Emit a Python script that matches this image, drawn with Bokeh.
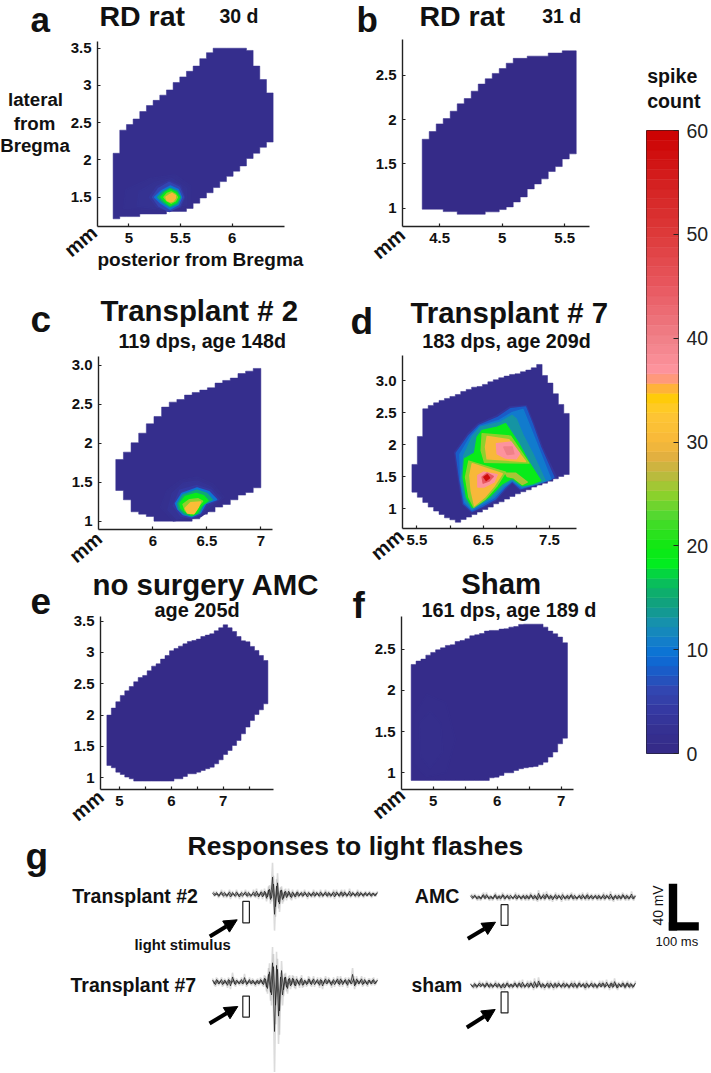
from collections import namedtuple
import numpy as np
from bokeh.plotting import figure
from bokeh.layouts import column, row
from bokeh.models import Label, FixedTicker, Range1d, Arrow, NormalHead
from bokeh.embed import file_html
from bokeh.resources import INLINE

# ---------- colour scale (spike count -> colour) ----------
cmap_levels = [0, 2, 4, 6, 8, 9.5, 11, 12.5, 14, 15.5, 17, 18, 20, 23, 25, 27, 28.5, 30, 33, 34, 35, 35.8, 36.5, 40, 45, 50, 55, 60]
cmap_colors = ["#352a87", "#35308f", "#3538a0", "#3345b0", "#1a5cc8", "#0a70d8", "#1480c8", "#1690b0", "#129c88", "#0eae6c", "#06c850", "#00ee22",
               "#10e812", "#55d830", "#8fd02c", "#c0b840", "#e0b040", "#f8b83a", "#ffc832", "#ffd000", "#ffb830", "#ff9c60", "#ff96a0", "#f08088",
               "#e85860", "#dd3a3a", "#d42020", "#cc0000"]
colorbar_ticks = [0, 10, 20, 30, 40, 50, 60]
colorbar_bands = 64

# ---------- panel a ----------
a_x0, a_step = 4.848, 0.0645
a_top = [2.09, 2.40, 2.475, 2.55, 2.65, 2.73, 2.80, 2.87, 2.94, 3.04, 3.115, 3.19, 3.26, 3.36, 3.44, 3.50, 3.50, 3.50, 3.50, 3.50, 3.47, 3.26, 3.08, 2.90]
a_bottom = [1.21, 1.24, 1.24, 1.24, 1.275, 1.275, 1.275, 1.275, 1.31, 1.31, 1.31, 1.35, 1.42, 1.49, 1.56, 1.63, 1.71, 1.78, 1.85, 1.92, 2.02, 2.09, 2.17, 2.24]
a_base = 1.5
a_contours = [
    (1.9, [(4.95, 1.35), (4.97, 1.6), (5.2, 1.75), (5.45, 1.8), (5.6, 1.65), (5.6, 1.38), (5.3, 1.33)]),
    (2.4, [(5.08, 1.38), (5.1, 1.58), (5.25, 1.7), (5.42, 1.75), (5.56, 1.62), (5.56, 1.40), (5.3, 1.34)]),
    (3.4, [(5.2, 1.50), (5.27, 1.64), (5.39, 1.72), (5.5, 1.65), (5.54, 1.50), (5.5, 1.37), (5.39, 1.31), (5.27, 1.37)]),
    (6, [(5.23, 1.50), (5.29, 1.62), (5.39, 1.70), (5.49, 1.63), (5.53, 1.50), (5.49, 1.38), (5.39, 1.31), (5.29, 1.38)]),
    (10, [(5.25, 1.50), (5.31, 1.58), (5.40, 1.65), (5.48, 1.60), (5.51, 1.50), (5.48, 1.40), (5.40, 1.34), (5.31, 1.42)]),
    (15, [(5.28, 1.50), (5.33, 1.57), (5.40, 1.62), (5.47, 1.58), (5.50, 1.50), (5.47, 1.41), (5.40, 1.37), (5.33, 1.43)]),
    (19, [(5.31, 1.50), (5.35, 1.56), (5.40, 1.60), (5.46, 1.56), (5.49, 1.50), (5.46, 1.43), (5.40, 1.39), (5.35, 1.44)]),
    (25, [(5.34, 1.50), (5.37, 1.55), (5.41, 1.57), (5.45, 1.54), (5.47, 1.50), (5.45, 1.45), (5.41, 1.42), (5.37, 1.45)]),
    (30, [(5.36, 1.50), (5.39, 1.53), (5.42, 1.55), (5.45, 1.52), (5.45, 1.49), (5.43, 1.45), (5.40, 1.44), (5.37, 1.46)]),
]

# ---------- panel b ----------
b_x0, b_step = 4.36, 0.056
b_top = [1.778, 1.865, 1.951, 2.011, 2.094, 2.177, 2.237, 2.32, 2.40, 2.46, 2.52, 2.575, 2.635, 2.69, 2.69, 2.715, 2.715, 2.715, 2.75, 2.75, 2.775, 2.775]
b_bottom = [0.989, 0.989, 0.989, 0.962, 0.962, 0.932, 0.932, 0.932, 0.932, 0.959, 0.959, 0.985, 1.015, 1.071, 1.128, 1.218, 1.274, 1.331, 1.414, 1.47, 1.556, 1.613]
b_base = 0.3

# ---------- panel c ----------
c_x0, c_step = 5.657, 0.0707
c_top = [1.795, 1.889, 2.009, 2.132, 2.252, 2.346, 2.466, 2.53, 2.564, 2.62, 2.654, 2.684, 2.714, 2.774, 2.808, 2.838, 2.897, 2.927, 2.962]
c_bottom = [1.397, 1.278, 1.124, 1.094, 1.064, 1.004, 1.004, 1.004, 1.004, 1.004, 1.034, 1.094, 1.124, 1.184, 1.218, 1.278, 1.338, 1.372, 1.432]
c_base = 1.5
c_contours = [
    (2.0, [(6.07, 1.18), (6.13, 1.40), (6.26, 1.53), (6.41, 1.57), (6.56, 1.48), (6.66, 1.31), (6.56, 1.18), (6.44, 1.06), (6.19, 1.01)]),
    (2.7, [(6.14, 1.15), (6.18, 1.36), (6.28, 1.49), (6.41, 1.52), (6.54, 1.44), (6.63, 1.30), (6.54, 1.2), (6.44, 1.08), (6.22, 1.03)]),
    (4.2, [(6.19, 1.2), (6.25, 1.40), (6.41, 1.46), (6.54, 1.40), (6.61, 1.28), (6.5, 1.21), (6.44, 1.09), (6.36, 1.04), (6.26, 1.07)]),
    (10, [(6.21, 1.23), (6.27, 1.36), (6.41, 1.43), (6.52, 1.38), (6.59, 1.28), (6.49, 1.23), (6.44, 1.11), (6.36, 1.06), (6.28, 1.09), (6.23, 1.16)]),
    (15, [(6.23, 1.23), (6.28, 1.34), (6.41, 1.40), (6.50, 1.36), (6.55, 1.28), (6.47, 1.22), (6.43, 1.11), (6.36, 1.07), (6.29, 1.10), (6.24, 1.16)]),
    (19, [(6.25, 1.23), (6.30, 1.32), (6.40, 1.36), (6.47, 1.33), (6.51, 1.27), (6.45, 1.2), (6.41, 1.11), (6.36, 1.08), (6.30, 1.12), (6.26, 1.17)]),
    (25, [(6.28, 1.22), (6.34, 1.28), (6.42, 1.29), (6.46, 1.26), (6.42, 1.19), (6.39, 1.12), (6.35, 1.10), (6.30, 1.14)]),
    (31, [(6.30, 1.17), (6.35, 1.24), (6.44, 1.25), (6.42, 1.18), (6.38, 1.10), (6.32, 1.11)]),
]

# ---------- panel d ----------
d_x0, d_step = 5.425, 0.0818
d_top = [1.693, 2.13, 2.5625, 2.615, 2.656, 2.693, 2.724, 2.755, 2.786, 2.833, 2.865, 2.90, 2.911, 2.943, 2.984, 3.016, 3.047, 3.073, 3.099, 3.109, 3.141, 3.167, 3.203, 3.255, 3.083, 2.964, 2.797, 2.630, 2.49]
d_bottom = [1.26, 1.18, 1.10, 1.026, 0.964, 0.911, 0.859, 0.828, 0.79, 0.833, 0.87, 0.91, 0.948, 0.99, 1.026, 1.078, 1.109, 1.151, 1.193, 1.234, 1.266, 1.297, 1.339, 1.37, 1.40, 1.432, 1.469, 1.505, 1.536]
d_base = 1.5
d_contours = [
    (3.4, [(6.07, 1.880), (6.27, 2.17), (6.43, 2.33), (6.70, 2.45), (6.90, 2.59), (7.15, 2.61), (7.26, 2.33), (7.39, 1.96), (7.60, 1.50), (7.32, 1.38), (7.06, 1.29), (6.94, 1.41), (6.84, 1.31), (6.69, 1.13), (6.51, 1.03), (6.32, 0.95), (6.19, 1.07), (6.13, 1.44)]),
    (8, [(6.093, 1.870), (6.284, 2.146), (6.435, 2.302), (6.711, 2.422), (6.912, 2.5625), (7.138, 2.589), (7.239, 2.328), (7.364, 1.964), (7.565, 1.49), (7.314, 1.39), (7.063, 1.3125), (6.937, 1.432), (6.837, 1.339), (6.686, 1.156), (6.51, 1.052), (6.334, 0.964), (6.209, 1.078), (6.148, 1.443)]),
    (10.5, [(6.15, 1.85), (6.31, 2.13), (6.45, 2.29), (6.74, 2.38), (6.93, 2.50), (7.10, 2.55), (7.21, 2.27), (7.34, 1.93), (7.52, 1.46), (7.31, 1.39), (7.08, 1.33), (6.94, 1.44), (6.82, 1.35), (6.66, 1.17), (6.48, 1.065), (6.33, 0.985), (6.22, 1.10), (6.16, 1.44)]),
    (13, [(6.209, 1.833), (6.334, 2.12), (6.46, 2.276), (6.761, 2.354), (6.937, 2.458), (7.0, 2.40), (7.10, 2.15), (7.25, 1.85), (7.43, 1.45), (7.314, 1.391), (7.088, 1.345), (6.937, 1.453), (6.812, 1.365), (6.636, 1.182), (6.46, 1.078), (6.334, 1.0), (6.234, 1.13), (6.168, 1.443)]),
    (19, [(6.219, 1.781), (6.369, 1.870), (6.41, 2.12), (6.485, 2.224), (6.711, 2.276), (6.837, 2.328), (7.038, 2.016), (7.188, 1.729), (7.364, 1.443), (7.239, 1.391), (7.088, 1.365), (6.937, 1.479), (6.786, 1.391), (6.585, 1.182), (6.435, 1.078), (6.334, 1.026), (6.249, 1.182), (6.198, 1.495)]),
    (25, [(6.485, 2.172), (6.912, 2.135), (7.188, 1.714), (6.52, 1.729), (6.47, 1.911)]),
    (30, [(6.56, 2.13), (6.887, 2.078), (7.138, 1.74), (6.56, 1.781), (6.535, 1.964)]),
    (37, [(6.70, 2.016), (6.922, 2.042), (7.048, 1.859), (6.997, 1.781), (6.837, 1.792), (6.711, 1.859)]),
    (40, [(6.812, 1.964), (6.937, 1.964), (6.962, 1.859), (6.862, 1.849)]),
    (25, [(6.284, 1.745), (6.837, 1.573), (6.711, 1.365), (6.535, 1.156), (6.359, 1.026), (6.284, 1.182), (6.234, 1.495)]),
    (30, [(6.334, 1.703), (6.786, 1.547), (6.671, 1.365), (6.52, 1.182), (6.369, 1.052), (6.319, 1.286), (6.299, 1.521)]),
    (37, [(6.42, 1.521), (6.51, 1.573), (6.711, 1.531), (6.661, 1.417), (6.51, 1.339), (6.42, 1.339)]),
    (45, [(6.485, 1.495), (6.56, 1.557), (6.651, 1.505), (6.585, 1.432), (6.5, 1.401)]),
    (58, [(6.51, 1.495), (6.56, 1.531), (6.595, 1.484), (6.545, 1.443)]),
    (26, [(6.837, 1.557), (6.987, 1.557), (7.163, 1.417), (7.088, 1.38), (6.962, 1.484), (6.862, 1.505)]),
]

# ---------- panel e ----------
e_x0, e_step = 4.756, 0.0863
e_top = [2.0, 2.112, 2.213, 2.314, 2.388, 2.457, 2.532, 2.601, 2.633, 2.707, 2.782, 2.819, 2.894, 2.952, 3.027, 3.064, 3.101, 3.138, 3.176, 3.191, 3.213, 3.255, 3.277, 3.298, 3.346, 3.394, 3.441, 3.394, 3.335, 3.255, 3.186, 3.17, 3.096, 3.032, 2.952, 2.872]
e_bottom = [1.197, 1.16, 1.09, 1.053, 1.011, 0.984, 0.947, 0.947, 0.947, 0.947, 0.947, 0.947, 0.947, 0.947, 0.947, 0.984, 0.984, 1.021, 1.064, 1.064, 1.09, 1.117, 1.144, 1.17, 1.223, 1.287, 1.372, 1.436, 1.516, 1.596, 1.702, 1.809, 1.915, 2.011, 2.085, 2.181]
e_base = 0.3

# ---------- panel f ----------
f_x0, f_step = 4.656, 0.0763
f_top = [2.314, 2.355, 2.379, 2.427, 2.46, 2.492, 2.516, 2.545, 2.553, 2.593, 2.605, 2.626, 2.662, 2.674, 2.69, 2.719, 2.727, 2.727, 2.743, 2.747, 2.767, 2.775, 2.8, 2.803, 2.803, 2.803, 2.803, 2.767, 2.719, 2.686, 2.646, 2.577]
f_bottom = [0.907] * 16 + [0.939, 0.947, 0.968, 1.0, 1.0, 1.028, 1.049, 1.061, 1.069, 1.077, 1.097, 1.129, 1.19, 1.251, 1.352, 1.42]
f_base = 0.8
f_contours = [
    (1.05, [(4.7, 1.1), (4.7, 1.7), (4.9, 1.95), (5.2, 1.85), (5.35, 1.4), (5.2, 1.0), (4.9, 0.95)]),
    (1.3, [(4.8, 1.2), (4.78, 1.6), (4.95, 1.75), (5.12, 1.6), (5.15, 1.25), (4.95, 1.05)]),
]

# ---------- panel g: two overlaid sweeps per recording (mV, one value per 6.67 ms) ----------
trace_t2 = [2, -2, 3, -3, 2, -1, 3, -3, 2, -4, 3, -2, 4, -2, 1, -3, 2, -2, 3, -3, 1, -2, 5, -4, 3, -4, 5, -6, 7, -8,
            27, -31, 13, -12, 6, -8, 4, -5, 5, -4, 4, -3, 3, -3, 2, -3, 4, -2, 3, -2, 2, -3, 3, -2, 4, -3, 2, -2, 3, -3,
            2, -4, 4, -2, 3, -3, 4, -3, 2, -3, 3, -2, 2, -3, 3, -2, 2, -2, 2, -2, 2, -2, 2]
trace_t2b = [3, -1, 1, -2, 4, -3, 1, -2, 4, -2, 1, -3, 2, -4, 3, -1, 4, -3, 1, -2, 4, -3, 2, -2, 4, -2, 3, -4, 8, -6,
             16, -19, 18, -15, 7, -6, 5, -3, 3, -5, 2, -4, 4, -2, 3, -2, 2, -4, 2, -3, 4, -2, 2, -3, 2, -2, 4, -3, 2, -2,
             4, -2, 2, -3, 4, -2, 2, -2, 5, -2, 2, -3, 4, -2, 2, -3, 3, -2, 3, -3, 2, -2, 3]
trace_t7 = [3, -3, 4, -3, 2, -4, 3, -3, 4, -6, 8, -3, 3, -2, 2, -3, 7, -4, 2, -2, 3, -3, 2, -3, 4, -3, 6, -8, 12, -16,
            30, -77, 26, -53, 8, -20, 7, -8, 5, -6, 6, -5, 5, -3, 4, -5, 3, -4, 5, -3, 3, -4, 2, -3, 4, -6, 3, -3, 4, -3,
            2, -4, 3, -3, 5, -4, 3, -3, 4, -2, 12, -6, 5, -3, 3, -4, 4, -3, 3, -2, 3, -3, 2]
trace_t7b = [2, -4, 3, -2, 4, -3, 2, -5, 3, -2, 4, -4, 2, -3, 4, -2, 3, -3, 4, -3, 2, -4, 3, -2, 3, -4, 5, -10, 16, -20,
             24, -36, 20, -45, 18, -12, 8, -10, 6, -4, 5, -6, 3, -5, 6, -4, 2, -3, 4, -4, 5, -2, 4, -5, 3, -3, 5, -2, 3, -5,
             4, -2, 5, -4, 3, -2, 4, -5, 3, -3, 5, -4, 3, -2, 5, -3, 2, -4, 3, -3, 4, -2, 3]
trace_amc = [2, -2, 3, -2, 2, -3, 3, -2, 4, -2, 2, -3, 3, -2, 2, -3, 4, -3, 2, -2, 3, -2, 2, -3, 3, -2, 2, -2, 3, -3,
             4, -2, 3, -3, 6, -3, 2, -3, 5, -2, 3, -4, 2, -3, 3, -2, 4, -2, 2, -3, 3, -2, 3, -3, 2, -2, 4, -2, 3, -3,
             2, -3, 2, -2, 3, -3, 2, -3, 3, -2, 5, -3, 2, -2, 3, -3, 4, -2, 3, -3, 2, -2, 2]
trace_amcb = [3, -1, 2, -3, 1, -2, 4, -2, 2, -3, 1, -2, 4, -3, 2, -1, 3, -2, 3, -3, 1, -2, 4, -2, 2, -3, 3, -3, 2, -2,
              3, -3, 2, -4, 3, -2, 4, -2, 3, -3, 2, -2, 4, -2, 2, -4, 2, -3, 3, -2, 4, -3, 1, -2, 3, -3, 2, -3, 4, -2,
              3, -2, 3, -3, 2, -2, 4, -2, 2, -3, 2, -4, 3, -3, 2, -2, 3, -3, 2, -2, 5, -3, 2]
trace_sham = [2, -2, 3, -3, 2, -2, 3, -3, 4, -2, 3, -3, 2, -2, 3, -3, 2, -4, 3, -2, 2, -3, 4, -2, 3, -2, 5, -3, 2, -3,
              4, -2, 6, -3, 7, -2, 3, -4, 2, -3, 4, -2, 3, -3, 4, -2, 2, -3, 3, -3, 2, -2, 4, -3, 3, -2, 2, -3, 4, -3,
              2, -2, 3, -3, 2, -2, 4, -3, 5, -2, 3, -3, 6, -3, 3, -2, 4, -3, 3, -2, 3, -3, 2]
trace_shamb = [1, -3, 2, -2, 4, -1, 2, -2, 3, -3, 2, -2, 4, -3, 2, -4, 3, -2, 4, -3, 2, -2, 3, -3, 4, -3, 2, -2, 4, -2,
               3, -4, 3, -2, 4, -3, 2, -2, 4, -3, 2, -4, 3, -2, 2, -3, 4, -2, 2, -3, 4, -3, 2, -3, 4, -2, 3, -4, 2, -2,
               4, -3, 2, -3, 4, -2, 3, -2, 2, -4, 4, -2, 3, -4, 2, -2, 3, -3, 4, -3, 2, -2, 4]
trace_start_ms = [0, 0, 860, 860]
trace_baseline_mv = [153.4, 78.3, 151.0, 75.4]
sample_ms = 6.67
stim_start_ms = [101, 101, 962, 962]
stim_end_ms = [123, 123, 985, 985]
stim_top_mv = [147.4, 66.3, 144.6, 69.9]
stim_bottom_mv = [129.1, 48.3, 126.9, 51.9]

SANS = "Liberation Sans"
Box = namedtuple("Box", "x y w h")


def level_color(v):
    r, g, b = [], [], []
    for c in cmap_colors:
        r.append(int(c[1:3], 16)); g.append(int(c[3:5], 16)); b.append(int(c[5:7], 16))
    return "#%02x%02x%02x" % (round(np.interp(v, cmap_levels, r)), round(np.interp(v, cmap_levels, g)), round(np.interp(v, cmap_levels, b)))


# transparent full-page layer for every text that lies outside a frame
overlay = figure(width=711, height=1073, x_range=Range1d(0, 711), y_range=Range1d(1073, 0), output_backend="svg", toolbar_location=None,
                 min_border=0, min_border_left=0, min_border_right=0, min_border_top=0, min_border_bottom=0,
                 border_fill_color=None, background_fill_color=None, outline_line_color=None)
overlay.grid.visible = False
overlay.axis.visible = False


def txt(px, py, s, size, bold=True, color="#111111", angle=0, align="left", baseline="alphabetic"):
    # the page places alphabetic label baselines lower than the given y by about 0.38 em
    if baseline == "alphabetic":
        py = py - 0.38 * size
    overlay.add_layout(Label(x=px, y=py, x_units="canvas", y_units="canvas", text=s,
                             text_font=SANS, text_font_size=f"{size}px", text_font_style="bold" if bold else "normal",
                             text_color=color, angle=angle, angle_units="deg", text_align=align, text_baseline=baseline))


def panel(box, frame, xr, yr, xticks, yticks, xover, yover, x0, step, top, bottom, base, contours):
    L, T, R, B = frame
    p = figure(width=box.w, height=box.h, x_range=Range1d(*xr), y_range=Range1d(*yr), output_backend="svg", toolbar_location=None,
               min_border_left=L - box.x, min_border_right=box.x + box.w - R, min_border_top=T - box.y, min_border_bottom=box.y + box.h - B)
    p.grid.visible = False
    p.outline_line_color = None
    p.background_fill_color = "white"
    for ax, ticks, over in ((p.xaxis[0], xticks, xover), (p.yaxis[0], yticks, yover)):
        ax.ticker = FixedTicker(ticks=ticks)
        ax.major_label_overrides = over
        ax.axis_line_color = "#222222"
        ax.axis_line_width = 1.4
        ax.major_tick_line_color = "#222222"
        ax.major_tick_line_width = 1.2
        ax.major_tick_in = 3
        ax.major_tick_out = 0
        ax.minor_tick_line_color = None
        ax.major_label_standoff = 6
        ax.major_label_text_font = SANS
        ax.major_label_text_font_style = "bold"
        ax.major_label_text_font_size = "15px"
        ax.major_label_text_color = "#111111"
    xs, ys = [], []
    n = len(top)
    for i in range(n):
        xs += [x0 + i * step, x0 + (i + 1) * step]
        ys += [top[i], top[i]]
    for i in range(n - 1, -1, -1):
        xs += [x0 + (i + 1) * step, x0 + i * step]
        ys += [bottom[i], bottom[i]]
    col = level_color(base)
    p.patch(xs, ys, fill_color=col, line_color=col, line_width=0.5)
    for lev, pts in contours:
        c = level_color(lev)
        p.patch([q[0] for q in pts], [q[1] for q in pts], fill_color=c, line_color=c, line_width=1.5, line_join="round")
    return p


# ---------- build panels ----------
boxes = dict(a=Box(0, 0, 340, 285), b=Box(340, 0, 290, 285), c=Box(0, 285, 340, 280),
             d=Box(340, 285, 290, 280), e=Box(0, 565, 340, 260), f=Box(340, 565, 290, 260))

pa = panel(boxes["a"], (97, 41, 284, 226), (4.697, 6.506), (1.107, 3.59), [5, 5.5, 6], [1.5, 2, 2.5, 3, 3.5], {}, {},
           a_x0, a_step, a_top, a_bottom, a_base, a_contours)
pb = panel(boxes["b"], (402, 39, 589, 226), (4.2024, 5.698), (0.794, 2.9025), [4.5, 5, 5.5], [1, 1.5, 2, 2.5], {}, {},
           b_x0, b_step, b_top, b_bottom, b_base, [])
pc = panel(boxes["c"], (98, 356, 272, 529), (5.497, 7.108), (0.897, 3.115), [6, 6.5, 7], [1, 1.5, 2, 2.5, 3], {}, {3: "3.0"},
           c_x0, c_step, c_top, c_bottom, c_base, c_contours)
pd_ = panel(boxes["d"], (402, 355, 576, 528), (5.283, 7.907), (0.692, 3.395), [5.5, 6, 6.5, 7, 7.5], [1, 1.5, 2, 2.5, 3], {6: "", 7: ""}, {3: "3.0"},
            d_x0, d_step, d_top, d_bottom, d_base, d_contours)
pe = panel(boxes["e"], (100, 616, 273, 789), (4.633, 7.971), (0.813, 3.574), [5, 5.5, 6, 6.5, 7, 7.5], [1, 1.5, 2, 2.5, 3, 3.5], {5.5: "", 6.5: "", 7.5: ""}, {},
           e_x0, e_step, e_top, e_bottom, e_base, [])
pf = panel(boxes["f"], (401, 616, 573, 789), (4.505, 7.192), (0.797, 2.896), [5, 5.5, 6, 6.5, 7], [1, 1.5, 2, 2.5], {5.5: "", 6.5: ""}, {},
           f_x0, f_step, f_top, f_bottom, f_base, f_contours)

# panel letters, titles
for px, py, s, sz in ((30, 32, "a", 35), (356, 32, "b", 35), (30, 333, "c", 37), (350, 335, "d", 37), (30, 615, "e", 37), (352, 619, "f", 37), (25, 870, "g", 37)):
    txt(px, py, s, sz)
txt(99, 26, "RD rat", 28.5)
txt(219, 23, "30 d", 19.5)
txt(419, 26, "RD rat", 28.5)
txt(541.7, 23, "31 d", 19.5)
txt(100, 321, "Transplant # 2", 29.4)
txt(118, 348, "119 dps, age 148d", 19.7)
txt(410, 323, "Transplant # 7", 29.4)
txt(421.7, 348, "183 dps, age 209d", 19.7)
txt(92, 595, "no surgery AMC", 29.4)
txt(154, 616.7, "age 205d", 19.9)
txt(460.7, 594, "Sham", 29.4)
txt(421, 616.7, "161 dps, age 189 d", 19.8)
txt(35, 106, "lateral", 18.7, align="center")
txt(34, 130, "from", 18.7, align="center")
txt(34.5, 151.7, "Bregma", 18.7, align="center")
txt(97, 266.7, "posterior from Bregma", 19)
for px, py in ((80, 240.7), (388, 243), (85, 546.7), (386.7, 544), (86.7, 805), (388, 803)):
    txt(px, py, "mm", 20, angle=40, align="center", baseline="middle")

# ---------- colour bar ----------
cb = figure(width=81, height=825, x_range=Range1d(0, 1), y_range=Range1d(0, 60), output_backend="svg", toolbar_location=None,
            min_border_left=16, min_border_right=33, min_border_top=130, min_border_bottom=72, y_axis_location="right")
cb.grid.visible = False
cb.xaxis.visible = False
band = 60 / colorbar_bands
for i in range(colorbar_bands):
    c = level_color((i + 0.5) * band)
    cb.quad(left=0, right=1, bottom=i * band, top=(i + 1) * band, fill_color=c, line_color=c, line_width=0.5)
ax = cb.yaxis[0]
ax.ticker = FixedTicker(ticks=colorbar_ticks)
ax.axis_line_color = None
ax.major_tick_in = 5
ax.major_tick_out = 0
ax.major_tick_line_color = "#222222"
ax.major_tick_line_width = 1.2
ax.minor_tick_line_color = None
ax.major_label_standoff = 8
ax.major_label_text_font = SANS
ax.major_label_text_font_size = "19.5px"
ax.major_label_text_color = "#222222"
cb.outline_line_color = "#222222"
cb.outline_line_width = 1
txt(646.7, 83, "spike", 19.6)
txt(646.7, 108, "count", 19.6)

# ---------- panel g ----------
PX_PER_MS, PX_PER_MV = 0.3, 46.7 / 40
g = figure(width=711, height=248, x_range=Range1d(-212 / PX_PER_MS, (711 - 212) / PX_PER_MS), y_range=Range1d(0, 248 / PX_PER_MV),
           output_backend="svg", toolbar_location=None, min_border=0, min_border_left=0, min_border_right=0, min_border_top=0, min_border_bottom=0)
g.grid.visible = False
g.axis.visible = False
g.outline_line_color = None


def gx(px):
    return (px - 212) / PX_PER_MS


def gy(py):
    return (1073 - py) / PX_PER_MV


sweeps = [(trace_t2, trace_t2b), (trace_t7, trace_t7b), (trace_amc, trace_amcb), (trace_sham, trace_shamb)]
for i, pair in enumerate(sweeps):
    for j, tr in enumerate(pair):
        t = [trace_start_ms[i] + (k + j * 0.5) * sample_ms for k in range(len(tr))]
        v = [trace_baseline_mv[i] + a for a in tr]
        g.line(t, v, line_color="#888888", line_width=1.6, line_alpha=0.3)
    for j, tr in enumerate(pair):
        t = [trace_start_ms[i] + (k + j * 0.5) * sample_ms for k in range(len(tr))]
        v = [trace_baseline_mv[i] + 0.55 * a for a in tr]
        g.line(t, v, line_color="#1c1c1c", line_width=0.9, line_alpha=0.8)
    g.quad(left=stim_start_ms[i], right=stim_end_ms[i], top=stim_top_mv[i], bottom=stim_bottom_mv[i],
           fill_color="white", line_color="#222222", line_width=1.2)

for (x1, y1, x2, y2) in ((209.3, 936, 236.7, 919.3), (209, 1023, 237.3, 1006), (467.3, 938.3, 495, 921.7), (466.3, 1027, 494.7, 1009)):
    g.add_layout(Arrow(end=NormalHead(size=13, fill_color="black", line_color="black"), x_start=gx(x1), y_start=gy(y1), x_end=gx(x2), y_end=gy(y2),
                       line_color="black", line_width=4))

# scale bar
g.quad(left=gx(668.3), right=gx(676.7), top=gy(883.3), bottom=gy(930), fill_color="black", line_color=None)
g.quad(left=gx(668.3), right=gx(698.3), top=gy(921.7), bottom=gy(930), fill_color="black", line_color=None)

txt(187, 856, "Responses to light flashes", 26.5)
txt(71.7, 902.7, "Transplant #2", 19.5)
txt(70, 991.7, "Transplant #7", 19.5)
txt(134, 950, "light stimulus", 14.8)
txt(414.3, 903.3, "AMC", 19.6)
txt(411, 991.7, "sham", 19.4)
txt(655, 946, "100 ms", 13, bold=False)
txt(658, 905, "40 mV", 13.8, bold=False, angle=90, align="center", baseline="middle")

col1 = column(row(pa), row(pc), row(pe))
col2 = column(row(pb), row(pd_), row(pf))
root = column(row(col1, col2, row(cb)), row(g), row(overlay, margin=(-1073, 0, 0, 0)))
open("out.html", "w").write(file_html(root, INLINE))
